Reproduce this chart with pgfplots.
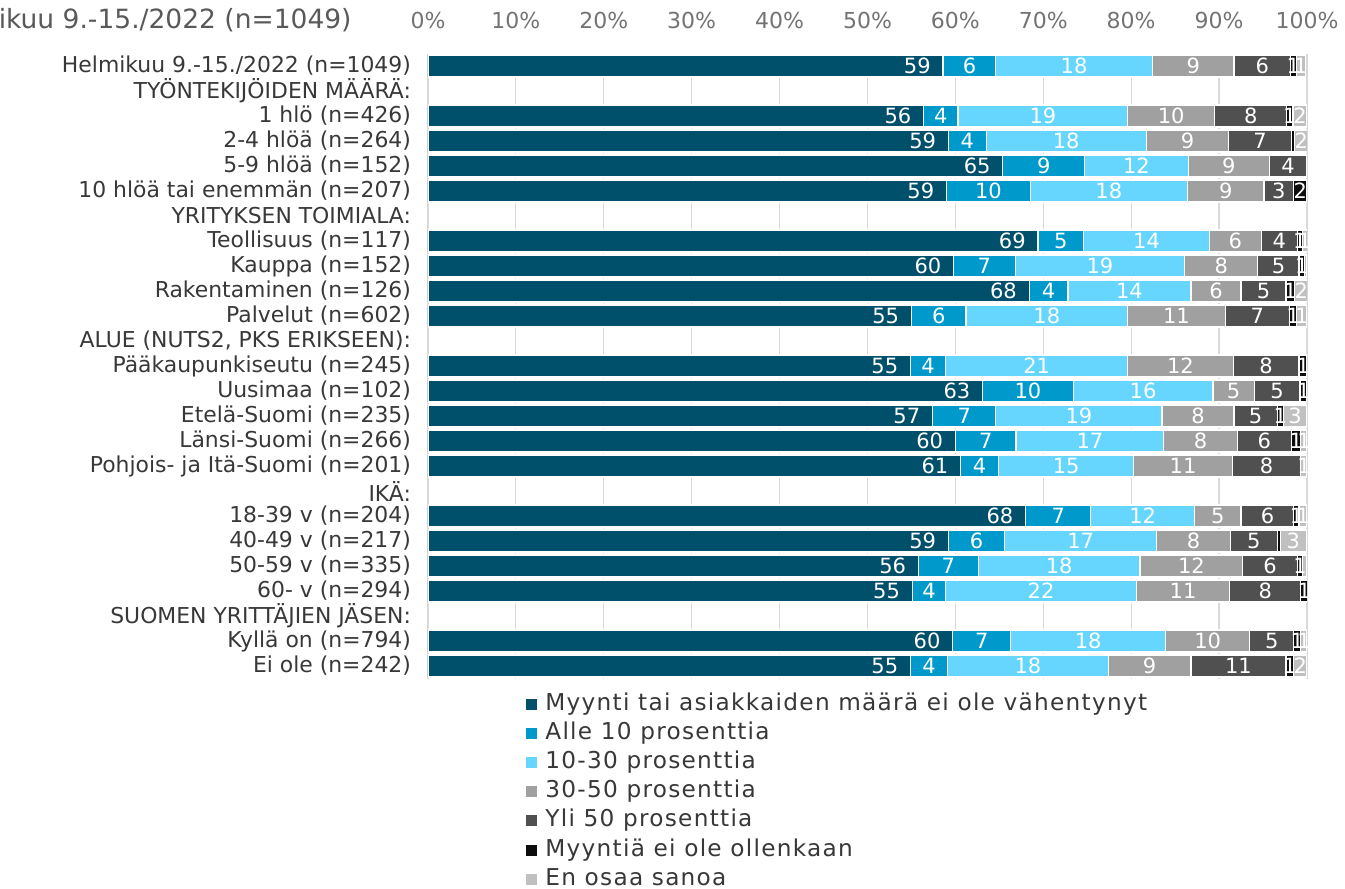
\documentclass[border=0pt]{standalone}
\usepackage{pgfplots}
\pgfplotsset{compat=1.18}
\usepackage{pgfplotstable}
\usepackage{fontspec}
\setmainfont{DejaVu Sans}
\newfontfamily\legfont[LetterSpace=5.5]{DejaVu Sans}
\definecolor{cA}{HTML}{00506B}
\definecolor{cB}{HTML}{0099CC}
\definecolor{cC}{HTML}{66D6FF}
\definecolor{cD}{HTML}{A0A0A0}
\definecolor{cE}{HTML}{505050}
\definecolor{cF}{HTML}{0D0D0D}
\definecolor{cG}{HTML}{C0C0C0}
\pgfplotstableread{
y A B C D E F G
0 58.6 6 17.8 9.3 6.4 0.7 1.0
1 0 0 0 0 0 0 0
2 56.4 3.9 19.3 9.9 8.2 0.7 1.6
3 59.2 4.3 18.2 9.4 7.1 0.4 1.5
4 65.4 9.3 11.8 9.2 4.3 0 0
5 59 9.5 17.9 8.7 3.4 1.5 0
6 0 0 0 0 0 0 0
7 69.4 5.2 14.3 5.9 4.1 0.55 0.6
8 59.8 7 19.3 8.3 4.7 0.6 0.3
9 68.4 4.4 14 5.7 5.1 1 1.5
10 55 6.2 18.4 11.1 7.3 0.8 1.2
11 0 0 0 0 0 0 0
12 54.9 4 20.7 12 7.5 0.9 0
13 63.1 10.3 15.9 4.7 5.2 0.8 0
14 57.4 7.2 18.9 8.2 4.9 0.7 2.7
15 60 6.9 16.8 8.4 6.1 1.1 0.7
16 60.6 4.3 15.4 11.2 7.8 0 0.7
17 0 0 0 0 0 0 0
18 68 7.4 11.8 5.3 6 0.6 0.9
19 59.2 6.4 17.3 8.4 5.3 0.4 2.9
20 55.8 6.8 18.4 11.7 6.2 0.6 0.4
21 55.1 3.8 21.7 10.6 8.1 0.8 0
22 0 0 0 0 0 0 0
23 59.7 6.6 17.6 9.6 5 0.8 0.7
24 54.9 4.2 18.3 9.4 10.8 0.9 1.5
}\data
% label positions (segment midpoints) derived from the values above
\pgfplotstablecreatecol[expr={\thisrow{A}+\thisrow{B}/2}]{mB}\data
\pgfplotstablecreatecol[expr={\thisrow{A}+\thisrow{B}+\thisrow{C}/2}]{mC}\data
\pgfplotstablecreatecol[expr={\thisrow{A}+\thisrow{B}+\thisrow{C}+\thisrow{D}/2}]{mD}\data
\pgfplotstablecreatecol[expr={\thisrow{A}+\thisrow{B}+\thisrow{C}+\thisrow{D}+\thisrow{E}/2}]{mE}\data
\pgfplotstablecreatecol[expr={\thisrow{A}+\thisrow{B}+\thisrow{C}+\thisrow{D}+\thisrow{E}+\thisrow{F}/2}]{mF}\data
\pgfplotstablecreatecol[expr={\thisrow{A}+\thisrow{B}+\thisrow{C}+\thisrow{D}+\thisrow{E}+\thisrow{F}+\thisrow{G}/2}]{mG}\data
\pgfplotsset{
 common/.style={scale only axis, width=439.5pt, height=312.5pt,
   xmin=0, xmax=100, ymin=-0.5, ymax=24.5, y dir=reverse},
 lab/.style={only marks, mark=none, point meta=explicit,
   restrict expr to domain={\thisrow{#1}}{0.45:1000},
   nodes near coords={\pgfmathprintnumber[fixed,precision=0,assume math mode=true]{\pgfplotspointmeta}},
   every node near coord/.append style={anchor=center}},
}
\begin{document}
\begin{tikzpicture}
\begin{axis}[name=ax, common,
 xbar stacked, bar width=11pt,
 xtick={0,10,...,100},
 xticklabels={0\%,10\%,20\%,30\%,40\%,50\%,60\%,70\%,80\%,90\%,100\%},
 xticklabel pos=right, xtick pos=right,
 major tick length=3pt, xtick style={color=black!15, line width=0.6pt},
 ytick style={draw=none},
 xmajorgrids, grid style={color=black!15, line width=0.6pt},
 axis line style={draw=none},
 ytick={0,...,24},
 yticklabels={Helmikuu 9.-15./2022 (n=1049),TYÖNTEKIJÖIDEN MÄÄRÄ:,1 hlö (n=426),2-4 hlöä (n=264),5-9 hlöä (n=152),10 hlöä tai enemmän (n=207),YRITYKSEN TOIMIALA:,Teollisuus (n=117),Kauppa (n=152),Rakentaminen (n=126),Palvelut (n=602),{ALUE (NUTS2, PKS ERIKSEEN):},Pääkaupunkiseutu (n=245),Uusimaa (n=102),Etelä-Suomi (n=235),Länsi-Suomi (n=266),Pohjois- ja Itä-Suomi (n=201),IKÄ:,18-39 v (n=204),40-49 v (n=217),50-59 v (n=335),60- v (n=294),SUOMEN YRITTÄJIEN JÄSEN:,Kyllä on (n=794),Ei ole (n=242)},
 yticklabel style={font=\fontsize{10.95}{12}\selectfont, text=black!78, xshift=-5pt},
 xticklabel style={font=\fontsize{11}{12}\selectfont, text=black!55, yshift=9pt},
 every axis plot/.append style={draw=white, line width=0.6pt},
 legend style={at={(0.1115,-0.021)}, anchor=north west, draw=none, inner sep=0pt,
   font=\legfont\fontsize{11.6}{13}\selectfont, text=black!78, row sep=2.6pt,
   nodes={inner sep=0pt, text height=9pt, text depth=3pt},
   /tikz/every odd column/.append style={column sep=4pt}},
 legend cell align=left,
 legend image code/.code={\fill[#1, draw=none] (0pt,-2.75pt) rectangle (5.5pt,2.75pt);},
]
\addplot[fill=cA] table[x=A,y=y]{\data};
\addlegendentry{Myynti tai asiakkaiden määrä ei ole vähentynyt}
\addplot[fill=cB] table[x=B,y=y]{\data};
\addlegendentry{Alle 10 prosenttia}
\addplot[fill=cC] table[x=C,y=y]{\data};
\addlegendentry{10-30 prosenttia}
\addplot[fill=cD] table[x=D,y=y]{\data};
\addlegendentry{30-50 prosenttia}
\addplot[fill=cE] table[x=E,y=y]{\data};
\addlegendentry{Yli 50 prosenttia}
\addplot[fill=cF] table[x=F,y=y]{\data};
\addlegendentry{Myyntiä ei ole ollenkaan}
\addplot[fill=cG] table[x=G,y=y]{\data};
\addlegendentry{En osaa sanoa}
\end{axis}
\begin{axis}[common, at={(ax.south west)}, anchor=south west, hide axis, clip=false,
 every node near coord/.append style={font=\fontsize{10.5}{12}\selectfont, text=white, inner sep=0pt}]
\addplot[lab=A, every node near coord/.append style={anchor=east, xshift=-6pt}] table[x=A,y=y,meta=A]{\data};
\addplot[lab=B] table[x=mB,y=y,meta=B]{\data};
\addplot[lab=C] table[x=mC,y=y,meta=C]{\data};
\addplot[lab=D] table[x=mD,y=y,meta=D]{\data};
\addplot[lab=E] table[x=mE,y=y,meta=E]{\data};
\addplot[lab=F] table[x=mF,y=y,meta=F]{\data};
\addplot[lab=G] table[x=mG,y=y,meta=G]{\data};
\end{axis}
\node[anchor=east, inner sep=0pt, font=\fontsize{13.25}{15}\selectfont, text=black!65] at ([xshift=-38pt, yshift=16.75pt]ax.north west) {Helmikuu 9.-15./2022 (n=1049)};
\pgfresetboundingbox
\useasboundingbox ([xshift=-214pt,yshift=26.75pt]ax.north west) rectangle ([xshift=458.5pt,yshift=-417.75pt]ax.north west);
\end{tikzpicture}
\end{document}
